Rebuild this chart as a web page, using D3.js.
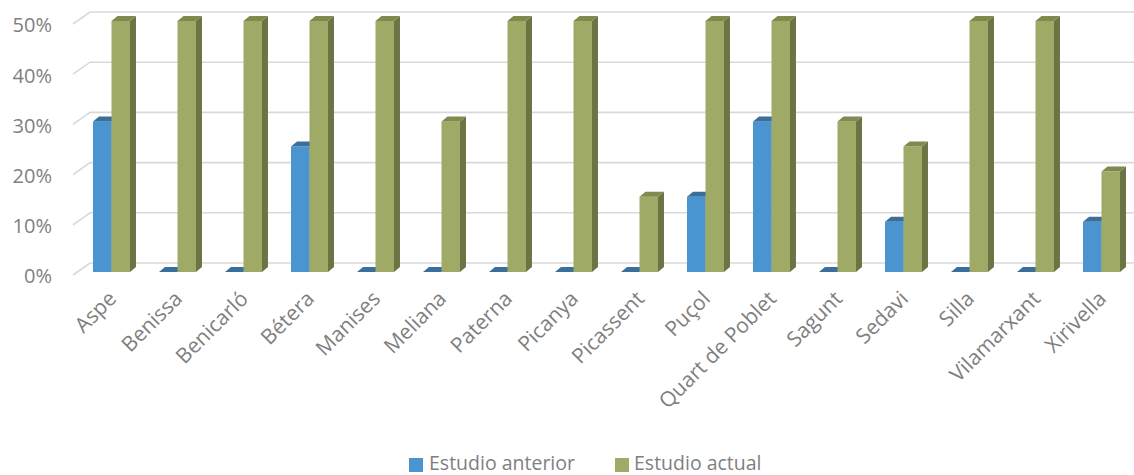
<!DOCTYPE html>
<html>
<head>
<meta charset="utf-8">
<script src="https://cdn.jsdelivr.net/npm/d3@7"></script>
<style>
  html, body { margin: 0; padding: 0; background: #fff; }
  svg { display: block; font-family: "Open Sans", "Noto Sans", sans-serif; }
</style>
</head>
<body>
<svg id="chart" width="1134" height="475"></svg>
<script>
const categories = ["Aspe","Benissa","Benicarló","Bétera","Manises","Meliana","Paterna","Picanya","Picassent","Puçol","Quart de Poblet","Sagunt","Sedavi","Silla","Vilamarxant","Xirivella"];
const seriesNames = ["Estudio anterior","Estudio actual"];
const estudioAnterior = [0.30,0,0,0.25,0,0,0,0,0,0.15,0.30,0,0.10,0,0,0.10];
const estudioActual   = [0.50,0.50,0.50,0.50,0.50,0.30,0.50,0.50,0.15,0.50,0.50,0.30,0.25,0.50,0.50,0.20];
const yTicks = [0,0.1,0.2,0.3,0.4,0.5];

const colors = {
  "Estudio anterior": {front:"#4a94cf", top:"#3a6f9c", side:"#35648c"},
  "Estudio actual":   {front:"#9eaa66", top:"#7e8a4e", side:"#6b7444"}
};

const svg = d3.select("#chart");
const W = 1134, H = 475;

const y = d3.scaleLinear().domain([0,0.5]).range([272,21]);
const x0 = d3.scaleBand().domain(categories).range([78.5,1134.5]).paddingInner(0.44).paddingOuter(0.22);
const x1 = d3.scaleBand().domain(seriesNames).range([0,x0.bandwidth()]);

const ddx = 6, ddy = -5;
const wallX0 = 73, wallX1 = 90, wallBack = -9, wallFront = 3;

const grid = svg.append("g");
yTicks.forEach(t => {
  const yf = y(t);
  grid.append("path")
    .attr("d", `M${wallX0},${yf+wallFront} L${wallX1},${yf+wallBack} L${W},${yf+wallBack}`)
    .attr("fill","none").attr("stroke","#d9d9d9").attr("stroke-width",1.6);
});

svg.append("g").selectAll("text").data(yTicks).join("text")
  .attr("x",52).attr("y",d=>y(d)+6)
  .attr("text-anchor","end").attr("dominant-baseline","middle")
  .attr("fill","#7f7f7f").attr("font-size",20)
  .text(d=>d3.format(".0%")(d));

const rows = categories.map((c,i)=>({cat:c, vals:[estudioAnterior[i], estudioActual[i]]}));
const gBars = svg.append("g");
rows.forEach(r => {
  seriesNames.forEach((s,si) => {
    const v = r.vals[si];
    const xl = x0(r.cat) + x1(s);
    const w = x1.bandwidth();
    const yt = y(v), yb = y(0);
    const c = colors[s];
    const g = gBars.append("g");
    g.append("path")
      .attr("d",`M${xl+w},${yb} L${xl+w+ddx},${yb+ddy} L${xl+w+ddx},${yt+ddy} L${xl+w},${yt} Z`)
      .attr("fill",c.side);
    if (yb - yt > 0) {
      g.append("rect").attr("x",xl).attr("y",yt).attr("width",w).attr("height",yb-yt).attr("fill",c.front);
    }
    g.append("path")
      .attr("d",`M${xl},${yt} L${xl+ddx},${yt+ddy} L${xl+w+ddx},${yt+ddy} L${xl+w},${yt} Z`)
      .attr("fill",c.top);
  });
});

svg.append("g").selectAll("text").data(categories).join("text")
  .attr("transform",d=>`translate(${x0(d)+x0.bandwidth()/2+6},${300}) rotate(-45)`)
  .attr("text-anchor","end")
  .attr("fill","#7f7f7f").attr("font-size",21)
  .text(d=>d);

const legend = svg.append("g");
const legendItems = [{name:seriesNames[0], x:409, tx:429},{name:seriesNames[1], x:615, tx:634}];
legendItems.forEach(it => {
  legend.append("rect").attr("x",it.x).attr("y",458).attr("width",14).attr("height",14).attr("fill",colors[it.name].front);
  legend.append("text").attr("x",it.tx).attr("y",470).attr("fill","#7f7f7f").attr("font-size",19.5).text(it.name);
});
</script>
</body>
</html>
